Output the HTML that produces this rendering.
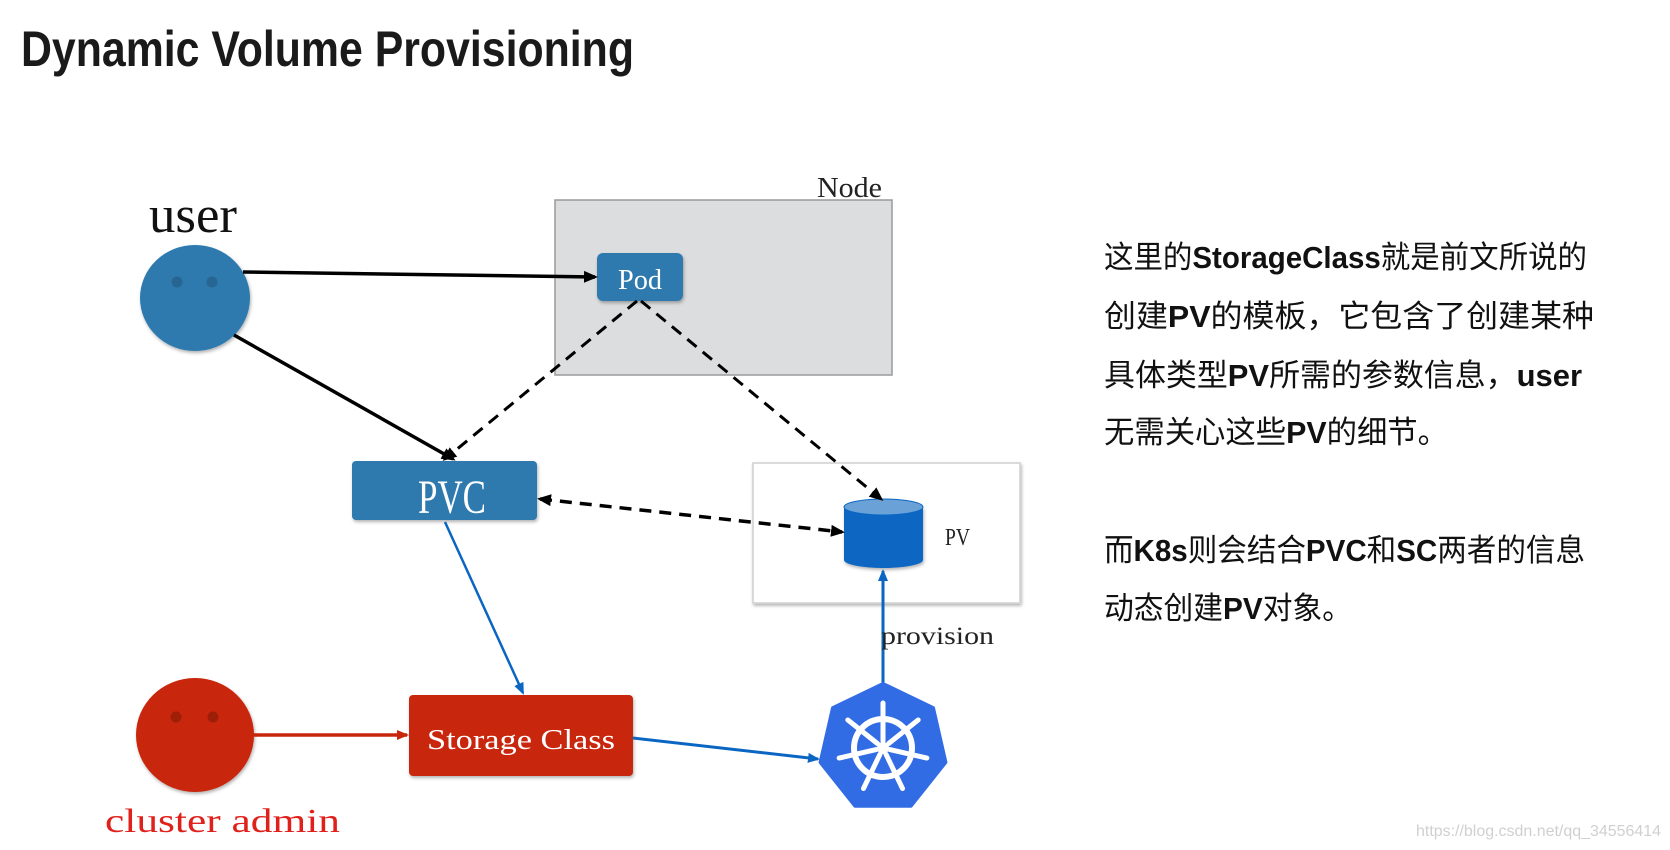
<!DOCTYPE html>
<html><head><meta charset="utf-8"><style>
html,body{margin:0;padding:0;background:#fff;}
svg{display:block;}
</style></head><body>
<svg width="1670" height="850" viewBox="0 0 1670 850" xmlns="http://www.w3.org/2000/svg">
<defs>
<marker id="ab" markerWidth="14" markerHeight="14" refX="11" refY="7" orient="auto" markerUnits="userSpaceOnUse"><path d="M0,1 L14,7 L0,13 z" fill="#000"/></marker>
<marker id="abs" markerWidth="14" markerHeight="14" refX="3" refY="7" orient="auto" markerUnits="userSpaceOnUse"><path d="M14,1 L0,7 L14,13 z" fill="#000"/></marker>
<marker id="bl" markerWidth="12" markerHeight="12" refX="10" refY="6" orient="auto" markerUnits="userSpaceOnUse"><path d="M0,1 L12,6 L0,11 z" fill="#0a66c2"/></marker>
<marker id="rd" markerWidth="12" markerHeight="12" refX="10" refY="6" orient="auto" markerUnits="userSpaceOnUse"><path d="M0,1 L12,6 L0,11 z" fill="#c8260b"/></marker>
<filter id="sh" x="-10%" y="-10%" width="130%" height="130%"><feDropShadow dx="1" dy="2" stdDeviation="1.5" flood-color="#000" flood-opacity="0.3"/></filter>
</defs>

<text x="21" y="66" font-family="Liberation Sans, sans-serif" font-weight="bold" font-size="50" fill="#1a1a1a" textLength="613" lengthAdjust="spacingAndGlyphs">Dynamic Volume Provisioning</text>

<rect x="555" y="200" width="337" height="175" fill="#dcdddf" stroke="#9a9a9a" stroke-width="1.5"/>
<text x="817" y="197" font-family="Liberation Serif, serif" font-size="29" fill="#222" textLength="65" lengthAdjust="spacingAndGlyphs">Node</text>

<rect x="753" y="463" width="267" height="140" fill="#fff" stroke="#cfcfcf" stroke-width="1.5" filter="url(#sh)"/>

<text x="149" y="232" font-family="Liberation Serif, serif" font-size="52" fill="#111" textLength="88" lengthAdjust="spacingAndGlyphs">user</text>
<ellipse cx="195" cy="298" rx="55" ry="53" fill="#2f7aae" filter="url(#sh)"/>
<circle cx="177" cy="282" r="5.5" fill="#276593"/>
<circle cx="212" cy="282" r="5.5" fill="#276593"/>

<rect x="597" y="253" width="86" height="48" rx="6" fill="#2f7aae" filter="url(#sh)"/>
<text x="640" y="289" text-anchor="middle" font-family="Liberation Serif, serif" font-size="28" fill="#fff" textLength="44" lengthAdjust="spacingAndGlyphs">Pod</text>

<rect x="352" y="461" width="185" height="59" rx="4" fill="#2f7aae" filter="url(#sh)"/>
<text x="452" y="513" text-anchor="middle" font-family="Liberation Serif, serif" font-size="48" fill="#fff" textLength="68" lengthAdjust="spacingAndGlyphs">PVC</text>

<rect x="409" y="695" width="224" height="81" rx="4" fill="#c8260b" filter="url(#sh)"/>
<text x="521" y="749" text-anchor="middle" font-family="Liberation Serif, serif" font-size="28" fill="#fff" textLength="188" lengthAdjust="spacingAndGlyphs">Storage Class</text>

<ellipse cx="195" cy="735" rx="59" ry="57" fill="#c8260b" filter="url(#sh)"/>
<circle cx="176" cy="717" r="5.5" fill="#9e1e08"/>
<circle cx="213" cy="717" r="5.5" fill="#9e1e08"/>
<text x="105" y="832" font-family="Liberation Serif, serif" font-size="34" fill="#e0201a" textLength="235" lengthAdjust="spacingAndGlyphs">cluster admin</text>

<g filter="url(#sh)">
<path d="M844,507 L844,560 A39.5,8 0 0 0 923,560 L923,507 z" fill="#0a66c2"/>
</g>
<ellipse cx="883.5" cy="507" rx="39.5" ry="8" fill="#6aa2d8" stroke="#0a66c2" stroke-width="1"/>
<text x="945" y="545" font-family="Liberation Serif, serif" font-size="24" fill="#222" textLength="25" lengthAdjust="spacingAndGlyphs">PV</text>

<line x1="243" y1="272" x2="595" y2="277" stroke="#000" stroke-width="3.5" marker-end="url(#ab)"/>
<line x1="234" y1="335" x2="453" y2="459" stroke="#000" stroke-width="3.5" marker-end="url(#ab)"/>
<line x1="637" y1="301" x2="445" y2="459" stroke="#000" stroke-width="3" stroke-dasharray="12,8" marker-end="url(#ab)"/>
<line x1="641" y1="301" x2="881" y2="499" stroke="#000" stroke-width="3" stroke-dasharray="12,8" marker-end="url(#ab)"/>
<line x1="540" y1="499" x2="842" y2="532" stroke="#000" stroke-width="3.5" stroke-dasharray="12,8" marker-start="url(#abs)" marker-end="url(#ab)"/>
<line x1="445" y1="522" x2="523" y2="693" stroke="#0a66c2" stroke-width="2.5" marker-end="url(#bl)"/>
<line x1="253" y1="735" x2="407" y2="735" stroke="#c8260b" stroke-width="3.5" marker-end="url(#rd)"/>
<line x1="633" y1="738" x2="818" y2="759" stroke="#0a66c2" stroke-width="3" marker-end="url(#bl)"/>
<line x1="883" y1="684" x2="883" y2="571" stroke="#0a66c2" stroke-width="3" marker-end="url(#bl)"/>
<text x="881" y="644" font-family="Liberation Serif, serif" font-size="25" fill="#222" textLength="113" lengthAdjust="spacingAndGlyphs">provision</text>

<g transform="translate(883,748)">
<polygon points="0,-64 50,-40 62.4,14.2 27.8,57.7 -27.8,57.7 -62.4,14.2 -50,-40" fill="#326ce5" stroke="#326ce5" stroke-width="4" stroke-linejoin="round"/>
<circle r="29" fill="none" stroke="#fff" stroke-width="6"/>
<g stroke="#fff" stroke-width="5" stroke-linecap="round">
<line x1="0" y1="-7" x2="0" y2="-45"/>
<line x1="0" y1="-7" x2="0" y2="-45" transform="rotate(51.43)"/>
<line x1="0" y1="-7" x2="0" y2="-45" transform="rotate(102.86)"/>
<line x1="0" y1="-7" x2="0" y2="-45" transform="rotate(154.29)"/>
<line x1="0" y1="-7" x2="0" y2="-45" transform="rotate(205.71)"/>
<line x1="0" y1="-7" x2="0" y2="-45" transform="rotate(257.14)"/>
<line x1="0" y1="-7" x2="0" y2="-45" transform="rotate(308.57)"/>
</g>
<circle r="6" fill="#fff"/>
</g>

<g font-family="Liberation Sans, 'Noto Sans CJK SC', sans-serif" font-size="31" fill="#111">
<text x="1104" y="268" textLength="483" lengthAdjust="spacingAndGlyphs">这里的<tspan font-weight="bold">StorageClass</tspan>就是前文所说的</text>
<text x="1104" y="327" textLength="490" lengthAdjust="spacingAndGlyphs">创建<tspan font-weight="bold">PV</tspan>的模板，它包含了创建某种</text>
<text x="1104" y="386" textLength="478" lengthAdjust="spacingAndGlyphs">具体类型<tspan font-weight="bold">PV</tspan>所需的参数信息，<tspan font-weight="bold">user</tspan></text>
<text x="1104" y="443" textLength="344" lengthAdjust="spacingAndGlyphs">无需关心这些<tspan font-weight="bold">PV</tspan>的细节。</text>
<text x="1104" y="561" textLength="481" lengthAdjust="spacingAndGlyphs">而<tspan font-weight="bold">K8s</tspan>则会结合<tspan font-weight="bold">PVC</tspan>和<tspan font-weight="bold">SC</tspan>两者的信息</text>
<text x="1104" y="619" textLength="248" lengthAdjust="spacingAndGlyphs">动态创建<tspan font-weight="bold">PV</tspan>对象。</text>
</g>

<text x="1416" y="836" font-family="Liberation Sans, sans-serif" font-size="16" fill="#d0d0d0" textLength="245" lengthAdjust="spacingAndGlyphs">https://blog.csdn.net/qq_34556414</text>
</svg>
</body></html>
